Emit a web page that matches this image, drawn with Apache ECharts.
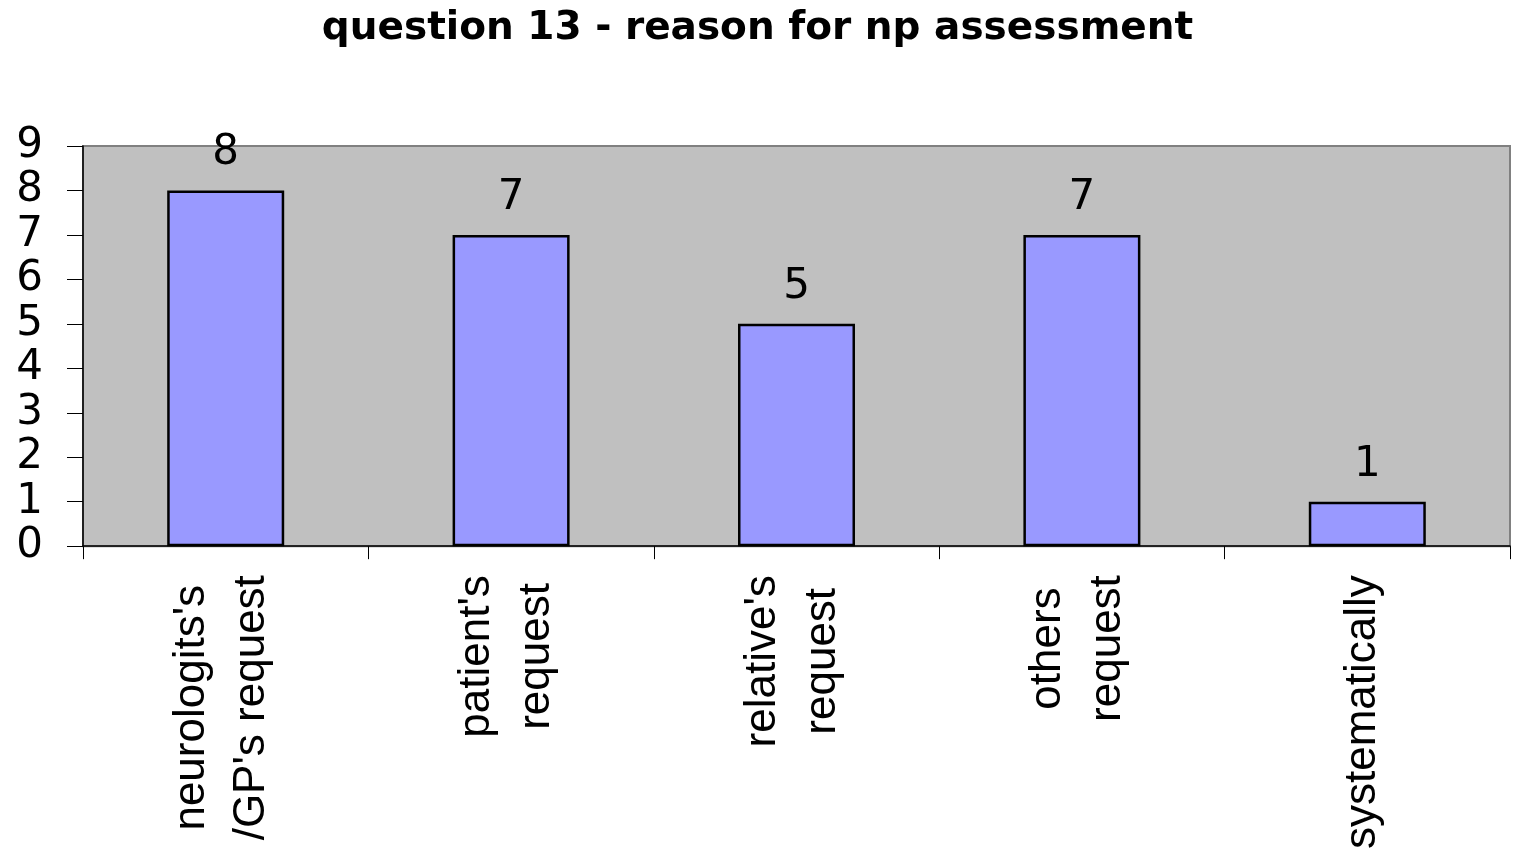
<!DOCTYPE html>
<html>
<head>
<meta charset="utf-8">
<script src="https://cdn.jsdelivr.net/npm/echarts@6/dist/echarts.min.js"></script>
<style>
  html, body { margin: 0; padding: 0; background: #fff; }
  #chart { width: 1515px; height: 852px; }
</style>
</head>
<body>
<div id="chart"></div>
<script>
const titleText = 'question 13 - reason for np assessment'
const categories = [
  ['neurologits\'s', '/GP\'s request'],
  ['patient\'s', 'request'],
  ['relative\'s', 'request'],
  ['others', 'request'],
  ['systematically'],
]
const values = [8, 7, 5, 7, 1]
const yMin = 0
const yMax = 9
const yStep = 1

const chart = echarts.init(document.getElementById('chart'))

const option = {
  animation: false,
  title: {
    text: titleText,
    left: 'center',
    top: 4,
    textStyle: { fontFamily: 'DejaVu Sans', fontWeight: 'bold', fontSize: 39, color: '#000' },
  },
  grid: {
    left: 83, right: 5, top: 146, bottom: 304,
    show: true,
    backgroundColor: '#C0C0C0',
    borderColor: '#808080',
    borderWidth: 2,
  },
  xAxis: {
    type: 'category',
    data: categories.map(c => c.join('\n')),
    axisLine: { lineStyle: { color: '#000', width: 1.5 } },
    axisTick: { show: true, length: 13, lineStyle: { color: '#000', width: 1 } },
    axisLabel: {
      interval: 0,
      rotate: 90,
      margin: 29,
      formatter: (v) => v.split('\n').map(s => '{a|' + s + '}').join('\n'),
      rich: {
        a: {
          fontFamily: 'Liberation Sans',
          fontSize: 44,
          lineHeight: 60,
          color: '#000',
          align: 'center',
          padding: [0, 0, 8, 0],
        },
      },
    },
  },
  yAxis: {
    type: 'value',
    min: yMin,
    max: yMax,
    interval: yStep,
    axisLine: { show: true, lineStyle: { color: '#000', width: 1.5 } },
    axisTick: { show: true, length: 16, lineStyle: { color: '#000', width: 1 } },
    splitLine: { show: false },
    axisLabel: {
      margin: 40,
      fontFamily: 'DejaVu Sans',
      fontSize: 42,
      color: '#000',
    },
  },
  series: [
    {
      type: 'bar',
      data: values,
      barWidth: 117,
      itemStyle: { color: '#9999FF', borderColor: '#000', borderWidth: 2.5 },
      label: {
        show: true,
        position: 'top',
        distance: 16,
        fontFamily: 'DejaVu Sans',
        fontSize: 42,
        color: '#000',
      },
    },
  ],
}

chart.setOption(option)
</script>
</body>
</html>
